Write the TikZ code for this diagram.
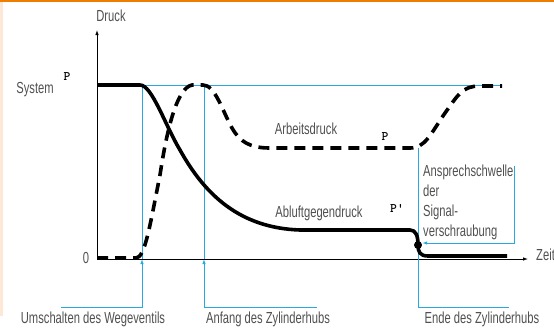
\documentclass[tikz,border=0pt]{standalone}
\usepackage{fontspec}
\setmainfont{Liberation Sans}
\newfontfamily\labelfont[FakeStretch=0.7]{Liberation Sans}
\usetikzlibrary{%
  arrows.meta,%
  calc,%
  positioning%
}
\definecolor{leitung}{RGB}{41,168,224}
\definecolor{rahmen}{RGB}{240,125,0}
\definecolor{rand}{RGB}{253,232,214}
\definecolor{schrift}{RGB}{80,80,80}

\begin{document}
\begin{tikzpicture}[
    x=1pt,y=-1pt,
    >={Latex[length=5pt,width=3.5pt]},
    axis/.style={draw=black,line width=0.8pt,->},
    leader/.style={draw=leitung,line width=0.9pt},
    kurve/.style={line width=3.6pt,line cap=butt,line join=round},
    gestrichelt/.style={kurve,dash pattern=on 11pt off 7pt},
    beschriftung/.style={font=\labelfont\fontsize{16}{20}\selectfont,
        text=schrift,inner sep=0pt},
    wert/.style={font=\ttfamily\fontsize{13}{13}\selectfont,inner sep=0pt},
    punkt/.style={circle,fill=black,inner sep=0pt,minimum size=8pt}
  ]

    \useasboundingbox (0,0) rectangle (554,327);
    \fill[rand]   (0,0) rectangle (2.5,316);
    \fill[rahmen] (0,0) rectangle (554,1.5);

    % Achsen
    \coordinate (ursprung) at (97,259);
    \coordinate (yende)    at (97,30);
    \coordinate (xende)    at (528,259);
    \draw[axis] (ursprung) -- (yende);
    \draw[axis] (ursprung) -- (xende);

    \node (druck)  [beschriftung]             at (111,16)  {Druck};
    \node (system) [beschriftung]             at (35,90)   {System};
    \node (psys)   [wert]                     at (67,77)   {\textbf{P}};
    \node (null)   [beschriftung]             at (86,258)  {0};
    \node (zeit)   [beschriftung,anchor=west] at (536,255) {Zeit};

    \node (arbeit) [beschriftung] at (306,129) {Arbeitsdruck};
    \node (parb)   [wert]         at (385,137) {\textbf{P}};
    \node (abluft) [beschriftung] at (319,213) {Abluftgegendruck};
    \node (pabl)   [wert]         at (397,208) {\textbf{P\textquotesingle}};

    \node (umschalten) [beschriftung] at (93,319)  {Umschalten des Wegeventils};
    \node (anfang)     [beschriftung] at (268,319) {Anfang des Zylinderhubs};
    \node (ende)       [beschriftung] at (482,319) {Ende des Zylinderhubs};
    \node (schwelle)   [beschriftung,align=left,anchor=north west] at (423,165)
        {Ansprechschwelle\\der\\Signal-\\verschraubung};

    \node (signal) [punkt] at (418,245) {};

    % Hilfslinien
    \coordinate (sys)     at (97,85);
    \coordinate (sysende) at (502,85);
    \coordinate (u1) at (142,85);  \coordinate (u2) at (142,259);
    \coordinate (u3) at (142,307); \coordinate (u4) at (61,307);
    \coordinate (a1) at (204,85);  \coordinate (a2) at (204,259);
    \coordinate (a3) at (204,307); \coordinate (a4) at (317,307);
    \coordinate (e1) at (418,148); \coordinate (e3) at (418,307);
    \coordinate (e4) at (509,307);
    \coordinate (s1) at (514,166); \coordinate (s2) at (514,243);

    \begin{scope}[leader]
     \draw (sys) -- (sysende);
     \draw (u1) -- (u2);
     \draw[->] (u4) -- (u3) -- (u2);
     \draw (a1) -- (a2);
     \draw[->] (a4) -- (a3) -- (a2);
     \draw (e1) -- (e3) -- (e4);
     \draw[->] (s1) -- (s2) -- (signal.east |- s2);
    \end{scope}

    % Abluftgegendruck
    \draw[kurve] (97,85) -- (140,85)
        .. controls (152,85) and (165,125) .. (180,150)
        .. controls (205,195) and (240,228) .. (300,230)
        -- (410,230)
        .. controls (416,230) and (418,236) .. (signal.center)
        .. controls (418,252) and (420,256) .. (428,256)
        -- (507,256);

    % Arbeitsdruck
    \draw[gestrichelt] (97,258) -- (136,258)
        .. controls (145,258) and (150,225) .. (160,175)
        .. controls (166,135) and (176,88) .. (192,85)
        -- (203,85)
        .. controls (215,85) and (222,110) .. (232,128)
        .. controls (240,142) and (250,148) .. (270,148)
        -- (410,148)
        .. controls (425,148) and (430,135) .. (445,113)
        .. controls (458,95) and (462,86) .. (480,86)
        -- (502,86);
\end{tikzpicture}
\end{document}
